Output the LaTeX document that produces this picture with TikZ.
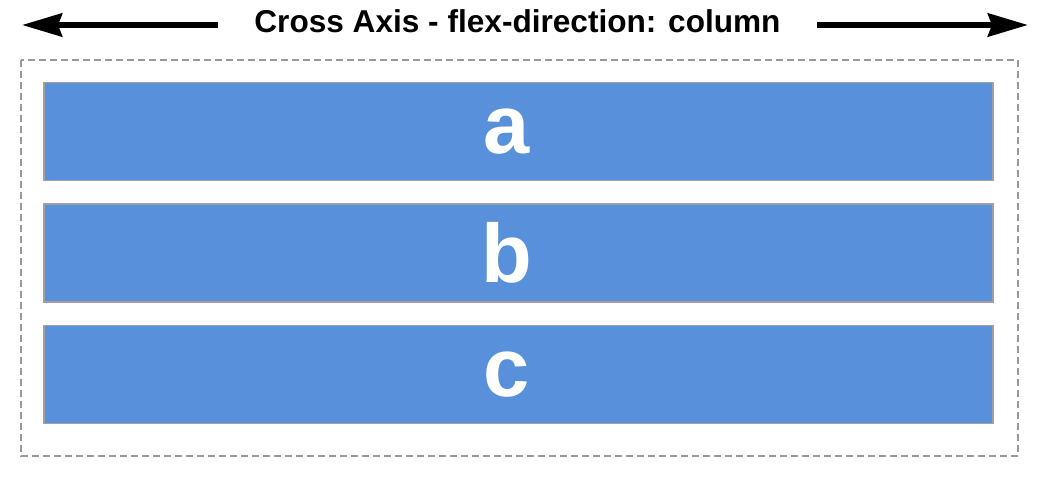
\documentclass[tikz,border=0pt]{standalone}
\usepackage{fontspec}
\setmainfont{Liberation Sans}
\usetikzlibrary{arrows.meta,positioning}
\definecolor{itembg}{HTML}{5890DB}
\definecolor{itemline}{HTML}{A0A0A0}
\definecolor{frameline}{HTML}{999999}

\begin{document}
\begin{tikzpicture}[x=1pt, y=-1pt, >={Stealth[length=40pt, width=23pt, inset=4pt]},
    item/.style={draw=itemline, line width=1.5pt, fill=itembg, text=white,
      minimum width=949pt, minimum height=98pt, inner sep=0pt,
      font=\bfseries\fontsize{83}{90}\selectfont,
      execute at begin node=\hspace*{-24pt}},
    axis/.style={->, line width=6pt}]
  \useasboundingbox (0,0) rectangle (1040,482);
  % container
  \draw[frameline, line width=2.5pt, dash pattern=on 7pt off 4pt] (21,60) rectangle (1018,456);
  % flex items
  \node[item] (a) at (518.5,131.5) {a};
  \node[item, below=22pt of a] (b) {b};
  \node[item, below=22pt of b] (c) {c};
  % cross axis
  \node[font=\bfseries\fontsize{31.6}{36}\selectfont, inner xsep=36pt] (title) at (517.5,21) {Cross Axis - flex-direction: column};
  \coordinate (leftend) at (22,25);
  \coordinate (rightend) at (1028,25);
  \draw[axis] (title.west |- leftend) -- (leftend);
  \draw[axis] (title.east |- rightend) -- (rightend);
\end{tikzpicture}
\end{document}
